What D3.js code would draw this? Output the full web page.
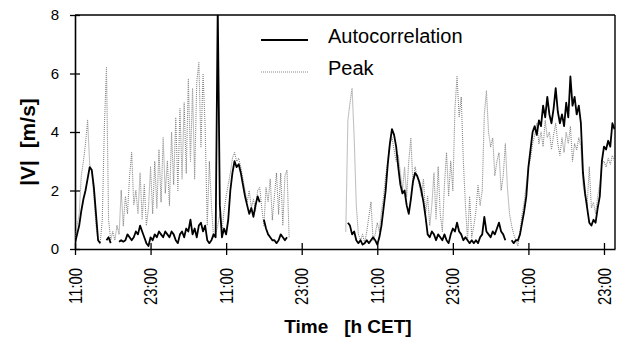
<!DOCTYPE html>
<html>
<head>
<meta charset="utf-8">
<script src="https://cdn.jsdelivr.net/npm/d3@7"></script>
<style>
    body { margin: 0; background: #fff; }
    #chart { width: 624px; height: 341px; }
    text { font-family: "Liberation Sans", Arial, Helvetica, sans-serif; fill: #000; }
</style>
</head>
<body>
<div id="chart"></div>
<script>
// both series are sampled every 20 minutes, hour 0 = 11:00 CET of the first day
const stepHours = 1 / 3;
const timeEnd = 85.75;

const tickHours = [0, 12, 24, 36, 48, 60, 72, 84];
const tickLabels = ["11:00", "23:00", "11:00", "23:00", "11:00", "23:00", "11:00", "23:00"];
const yTicks = [0, 2, 4, 6, 8];
const seriesNames = ["Autocorrelation", "Peak"];

// |V| in m/s, null = no data
const autocorrelation = [
    0.2, 0.5, 0.8, 1.3, 1.7, 2.0, 2.4, 2.8, 2.7, 2.1,
    1.2, 0.3, 0.2, null, null, 0.3, 0.4, 0.2, null, null,
    null, 0.25, 0.3, 0.25, 0.3, 0.5, 0.4, 0.3, 0.4, 0.6,
    0.5, 0.8, 0.6, 0.4, 0.2, 0.1, 0.4, 0.3, 0.5, 0.4,
    0.6, 0.5, 0.4, 0.6, 0.5, 0.4, 0.6, 0.5, 0.3, 0.2,
    0.5, 0.6, 0.4, 0.7, 0.6, 1.0, 0.5, 0.7, 0.4, 0.8,
    0.9, 0.6, 0.8, 0.3, 0.2, 0.3, 0.5, 0.4, 8.3, 1.5,
    0.4, 0.7, 0.5, 1.0, 2.0, 2.6, 3.0, 2.8, 2.9, 2.6,
    2.2, 1.8, 1.5, 1.2, 1.4, 1.1, 1.5, 1.8, 1.6, null,
    1.0, 0.7, 0.5, 0.4, 0.3, 0.3, 0.2, 0.3, 0.5, 0.4,
    0.3, 0.4, null, null, null, null, null, null, null, null,
    null, null, null, null, null, null, null, null, null, null,
    null, null, null, null, null, null, null, null, null, null,
    0.9, 0.8, 0.5, 0.6, 0.3, 0.2, 0.3, 0.15, 0.2, 0.3,
    0.2, 0.3, 0.4, 0.3, 0.15, 0.4, 0.8, 1.4, 2.0, 2.9,
    3.6, 4.1, 3.9, 3.5, 2.8, 2.2, 1.9, 2.0, 1.5, 1.2,
    1.7, 2.3, 2.6, 2.5, 2.3, 2.0, 1.6, 1.1, 0.5, 0.4,
    0.6, 0.5, 0.3, 0.5, 0.4, 0.3, 0.5, 0.3, 0.2, 0.5,
    0.7, 0.6, 0.9, 0.6, 0.5, 0.3, 0.4, 0.3, 0.2, 0.3,
    0.2, 0.3, 0.2, 0.4, 0.5, 1.1, 0.6, 0.5, 0.4, 0.6,
    0.5, 0.7, 0.9, 0.6, 0.5, 0.3, null, null, 0.3, 0.2,
    0.3, 0.3, 0.5, 0.9, 1.3, 1.8, 2.8, 3.4, 4.0, 4.2,
    3.9, 4.4, 4.2, 4.9, 4.5, 5.2, 4.6, 4.3, 4.8, 5.5,
    4.7, 4.3, 4.6, 4.2, 5.0, 4.5, 5.9, 4.9, 5.2, 4.6,
    4.9, 4.3, 2.6, 1.9, 1.4, 0.9, 0.8, 1.0, 0.9, 1.4,
    1.8, 3.0, 3.5, 3.4, 3.7, 3.5, 4.3, 4.1
];

const peak = [
    0.3, 0.8, 1.2, 2.5, 3.0, 3.6, 4.4, 2.9, 2.6, 1.8,
    0.8, 0.3, 0.2, 1.0, 4.2, 6.2, 1.0, 0.3, 0.6, 0.3,
    0.8, 0.5, 2.0, 0.8, 1.8, 1.2, 2.5, 3.3, 1.5, 2.0,
    1.2, 2.6, 1.0, 2.2, 0.8, 1.4, 2.8, 1.2, 3.0, 1.4,
    3.4, 1.6, 3.8, 1.9, 3.0, 1.5, 4.0, 2.2, 4.5, 2.0,
    4.8, 2.4, 5.0, 2.6, 5.8, 3.0, 5.5, 2.4, 5.7, 6.4,
    3.5, 6.0, 4.2, 0.8, 3.0, 1.5, 0.4, 0.5, 0.8, 1.2,
    0.6, 1.3, 1.8, 2.2, 2.6, 3.1, 3.3, 3.0, 3.1, 2.8,
    2.4, 2.0, 1.6, 2.0, 1.4, 1.7, 1.3, 2.0, 2.1, 1.4,
    0.8, 2.1, 1.6, 2.4, 1.0, 1.8, 2.6, 1.2, 2.6, 0.8,
    2.5, 2.7, 0.4, null, null, null, null, null, null, null,
    null, null, null, null, null, null, null, null, null, null,
    null, null, null, null, null, null, null, null, null, 0.6,
    4.4, 5.0, 5.5, 3.8, 1.5, 0.5, 0.3, 0.5, 0.2, 0.6,
    1.1, 1.6, 0.3, 0.5, 0.9, 0.6, 1.3, 1.8, 2.5, 3.0,
    3.6, 3.8, 3.4, 3.0, 3.2, 2.6, 2.0, 2.8, 1.8, 3.0,
    3.8, 2.2, 2.8, 2.5, 2.2, 1.8, 2.4, 1.2, 1.8, 0.8,
    1.5, 2.6, 1.0, 2.8, 1.2, 0.6, 2.2, 3.3, 1.8, 3.0,
    2.0, 4.8, 5.9, 4.5, 5.2, 3.0, 1.5, 0.3, 1.8, 0.4,
    0.8, 1.3, 2.2, 1.5, 2.0, 4.6, 5.4, 4.0, 3.5, 3.8,
    2.5, 3.0, 3.3, 2.0, 2.5, 3.6, 2.1, 1.2, 0.8, 0.5,
    0.3, 0.1, 0.6, 1.2, 1.6, 2.2, 2.8, 3.1, 3.6, 3.9,
    4.3, 3.6, 4.0, 3.5, 4.4, 3.8, 4.0, 3.4, 3.9, 4.3,
    3.6, 3.2, 3.8, 3.3, 4.0, 3.6, 4.2, 3.0, 3.6, 3.4,
    3.8, 3.5, 2.2, 1.8, 1.5, 2.8, 1.4, 1.6, 1.2, 1.8,
    2.2, 2.9, 3.0, 2.8, 3.1, 2.9, 3.2, 3.0
];

class SpeedChart {

    constructor(parentElement) {
        this.parentElement = parentElement;
        this.series = [
            {name: seriesNames[1], values: peak, color: "#858585", width: 1.1, dash: "1,1"},
            {name: seriesNames[0], values: autocorrelation, color: "#000", width: 1.8, dash: null}
        ];
        this.initVis();
    }

    initVis() {
        let vis = this;

        vis.margin = {top: 15, right: 9, bottom: 92, left: 75};
        vis.width = 624 - vis.margin.left - vis.margin.right;
        vis.height = 341 - vis.margin.top - vis.margin.bottom;

        vis.root = d3.select("#" + vis.parentElement).append("svg")
            .attr("width", 624)
            .attr("height", 341);

        vis.svg = vis.root.append("g")
            .attr("transform", `translate(${vis.margin.left}, ${vis.margin.top})`);

        vis.svg.append("clipPath").attr("id", "plot-clip")
            .append("rect")
            .attr("width", vis.width)
            .attr("height", vis.height);

        vis.x = d3.scaleLinear().domain([0, timeEnd]).range([0, vis.width]);
        vis.y = d3.scaleLinear().domain([0, 8]).range([vis.height, 0]);

        vis.line = d3.line()
            .defined(d => d != null)
            .x((d, i) => vis.x(i * stepHours))
            .y(d => vis.y(d));

        // axes with ticks crossing the axis line
        vis.yAxis = d3.axisLeft(vis.y).tickValues(yTicks).tickSizeInner(5).tickSizeOuter(0).tickPadding(11);
        vis.xAxis = d3.axisBottom(vis.x).tickValues(tickHours)
            .tickFormat((d, i) => tickLabels[i]).tickSizeOuter(0);

        vis.yAxisG = vis.svg.append("g").attr("class", "y-axis").call(vis.yAxis)
            .attr("font-size", null).attr("font-family", null);
        vis.yAxisG.select(".domain").attr("stroke-width", 1.6);
        vis.yAxisG.selectAll(".tick line").attr("x1", 5).attr("x2", -5).attr("stroke-width", 1.3);
        vis.yAxisG.selectAll(".tick text").style("font-size", "15px");

        vis.xAxisG = vis.svg.append("g").attr("class", "x-axis")
            .attr("transform", `translate(0, ${vis.height})`)
            .call(vis.xAxis)
            .attr("font-size", null).attr("font-family", null);
        vis.xAxisG.select(".domain").attr("stroke-width", 1.6);
        vis.xAxisG.selectAll(".tick line").attr("y1", -6).attr("y2", 6).attr("stroke-width", 1.3);
        vis.xAxisG.selectAll(".tick text")
            .attr("y", null).attr("dy", null)
            .attr("text-anchor", "end")
            .attr("dominant-baseline", "central")
            .attr("transform", "translate(0, 19) rotate(-90) scale(0.78, 1)")
            .style("font-size", "19px");

        // frame top and right
        vis.svg.append("line")
            .attr("x1", 0).attr("x2", vis.width).attr("y1", 0).attr("y2", 0)
            .attr("stroke", "#000").attr("stroke-width", 1.6);
        vis.svg.append("line")
            .attr("x1", vis.width).attr("x2", vis.width).attr("y1", 0).attr("y2", vis.height)
            .attr("stroke", "#000").attr("stroke-width", 1.4);

        // axis titles
        vis.root.append("text")
            .attr("transform", "translate(27, 142) rotate(-90)")
            .attr("text-anchor", "middle")
            .attr("dominant-baseline", "central")
            .style("font-size", "21px")
            .style("font-weight", "bold")
            .style("white-space", "pre")
            .text("|V|  [m/s]");

        vis.root.append("text")
            .attr("x", 348).attr("y", 333)
            .attr("text-anchor", "middle")
            .style("font-size", "19px")
            .style("font-weight", "bold")
            .style("white-space", "pre")
            .text("Time   [h CET]");

        // legend
        vis.legend = vis.root.append("g").attr("class", "legend");
        let legendRows = [vis.series[1], vis.series[0]];
        legendRows.forEach((s, i) => {
            let cy = i === 0 ? 40 : 72;
            vis.legend.append("line")
                .attr("x1", 261).attr("x2", 308).attr("y1", cy).attr("y2", cy)
                .attr("stroke", s.color)
                .attr("stroke-width", s.width)
                .attr("stroke-dasharray", s.dash);
            vis.legend.append("text")
                .attr("x", 328).attr("y", cy + 3)
                .style("font-size", "20px")
                .text(s.name);
        });

        vis.lineGroup = vis.svg.append("g").attr("clip-path", "url(#plot-clip)");

        vis.updateVis();
    }

    updateVis() {
        let vis = this;

        vis.lineGroup.selectAll(".series")
            .data(vis.series)
            .join("path")
            .attr("class", "series")
            .attr("d", d => vis.line(d.values))
            .attr("fill", "none")
            .attr("stroke", d => d.color)
            .attr("stroke-width", d => d.width)
            .attr("stroke-dasharray", d => d.dash)
            .attr("stroke-linejoin", "round");
    }
}

new SpeedChart("chart");
</script>
</body>
</html>
